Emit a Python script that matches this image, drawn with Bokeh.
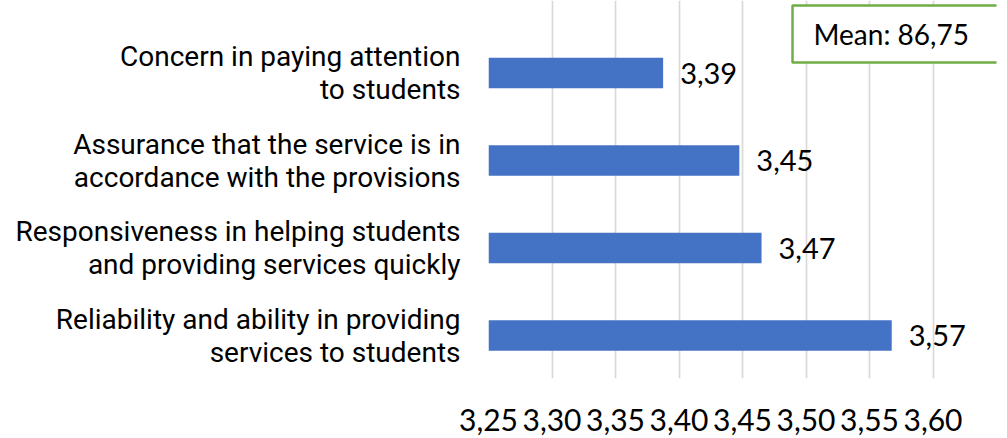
from bokeh.plotting import figure
from bokeh.models import Range1d, FixedTicker, CustomJSTickFormatter, ColumnDataSource, Label
from bokeh.core.properties import value
from bokeh.embed import file_html
from bokeh.resources import INLINE

# ---- data ----
categories = [
    "Reliability and ability in providing\nservices to students",
    "Responsiveness in helping students\nand providing services quickly",
    "Assurance that the service is in\naccordance with the provisions",
    "Concern in paying attention\nto students",
]
scores = [3.5675, 3.465, 3.4475, 3.3875]
score_labels = ["3,57", "3,47", "3,45", "3,39"]
x_ticks = [3.25, 3.30, 3.35, 3.40, 3.45, 3.50, 3.55, 3.60]
mean_text = "Mean: 86,75"

positions = list(range(len(categories)))

W, H = 1007, 438
LEFT, RIGHT, TOP, BOTTOM = 488, 11, 0, 60
X_START, X_END = 3.25, 3.65
Y_START, Y_END = -0.491, 3.829

p = figure(width=W, height=H, output_backend="svg", toolbar_location=None,
           x_range=Range1d(X_START, X_END), y_range=Range1d(Y_START, Y_END),
           min_border_left=LEFT, min_border_right=RIGHT, min_border_top=TOP,
           min_border_bottom=BOTTOM)
p.outline_line_color = None
p.background_fill_color = "white"
p.border_fill_color = "white"

src = ColumnDataSource(dict(y=positions, right=scores, lab=score_labels))
p.hbar(y="y", right="right", left=X_START, height=0.35, source=src,
       fill_color="#4472C4", line_color=None)
p.text(x="right", y="y", text="lab", source=src, x_offset=17,
       text_baseline="middle", text_align="left",
       text_font=value("Lato"), text_font_size="29px", text_color="#000000")

# x axis
xa = p.xaxis[0]
xa.ticker = FixedTicker(ticks=x_ticks)
xa.formatter = CustomJSTickFormatter(code="return tick.toFixed(2).replace('.', ',');")
xa.axis_line_color = None
xa.major_tick_line_color = None
xa.minor_tick_line_color = None
xa.major_label_text_font = "Lato"
xa.major_label_text_font_size = "30px"
xa.major_label_text_color = "#000000"
xa.major_label_standoff = 24

p.xgrid.ticker = FixedTicker(ticks=x_ticks)
p.xgrid.grid_line_color = "#D9D9D9"
p.xgrid.grid_line_width = 1.7
p.ygrid.grid_line_color = None

# y axis
ya = p.yaxis[0]
ya.ticker = FixedTicker(ticks=positions)
ya.major_label_overrides = {i: c for i, c in zip(positions, categories)}
ya.axis_line_color = None
ya.major_tick_line_color = None
ya.minor_tick_line_color = None
ya.major_label_text_font = "Roboto"
ya.major_label_text_font_size = "28px"
ya.major_label_text_color = "#000000"
ya.major_label_standoff = 22
ya.major_label_text_line_height = 1.0

# mean box
px_per_x = (W - LEFT - RIGHT) / (X_END - X_START)
px_per_y = (H - TOP - BOTTOM) / (Y_END - Y_START)
mean_label = Label(x=X_START + (792 - LEFT) / px_per_x, y=Y_END - 33.5 / px_per_y,
                   text=mean_text, text_font="Lato", text_font_size="28px",
                   text_color="#000000", text_baseline="middle", text_align="left",
                   background_fill_color="white", border_line_color="#70AD47",
                   border_line_width=2.5,
                   padding={"left": 21, "right": 40, "top": 11, "bottom": 12})
p.add_layout(mean_label)

open("out.html", "w").write(file_html(p, INLINE))
